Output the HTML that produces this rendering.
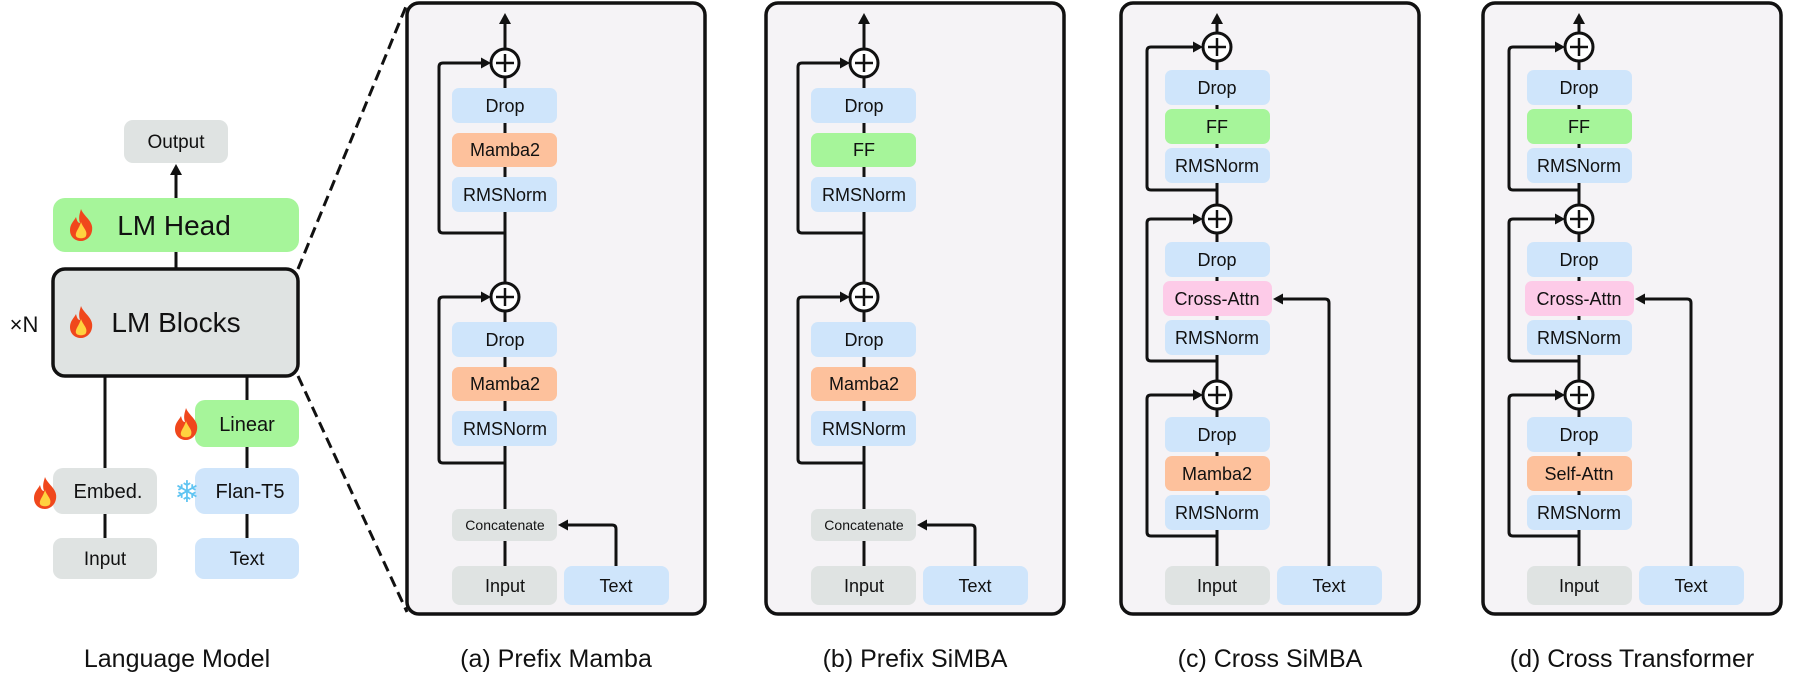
<!DOCTYPE html>
<html><head><meta charset="utf-8"><style>
html,body{margin:0;padding:0;background:#fff;}
svg{display:block;}
text{font-family:"Liberation Sans",sans-serif;fill:#111;text-anchor:middle;}
.b{font-size:18px;}
.cap{font-size:25px;}
</style></head><body>
<svg width="1794" height="683" viewBox="0 0 1794 683" xmlns="http://www.w3.org/2000/svg">
<defs>
<g id="fire">
<path d="M13 0 C16 8 26 12 24 22 C23 28 18 32 13 32 C7 32 2 28 2 21 C2 15 6 12 8 8 C9 12 10 14 12 14 C10 8 12 4 13 0Z" fill="#f0471c"/>
<path d="M13 13 C15 19 20 22 18 27 C17 30 9 30 8 27 C7 23 11 20 13 13Z" fill="#ffd23f"/>
</g>
<g id="ah"><polygon points="0,0 -10,-5.5 -10,5.5" fill="#111"/></g>
</defs>

<g stroke="#111" stroke-width="3" fill="none">
<line x1="176" y1="198" x2="176" y2="172"/>
<line x1="176" y1="252" x2="176" y2="269"/>
<line x1="105" y1="376" x2="105" y2="538"/>
<line x1="247" y1="376" x2="247" y2="538"/>
<line x1="298" y1="269" x2="407" y2="4" stroke-dasharray="11 6"/>
<line x1="298" y1="376" x2="407" y2="612" stroke-dasharray="11 6"/>
</g>
<polygon points="176,164 170,175 182,175" fill="#111"/>
<rect x="124" y="120" width="104" height="43" rx="9" fill="#dfe3e2"/>
<text x="176" y="148" font-size="19">Output</text>
<rect x="53" y="198" width="246" height="54" rx="12" fill="#a6f59a"/>
<use href="#fire" x="68" y="209"/>
<text x="174" y="235" font-size="28">LM Head</text>
<rect x="53" y="269" width="245" height="107" rx="12" fill="#dfe3e2" stroke="#111" stroke-width="3.5"/>
<use href="#fire" x="68" y="306"/>
<text x="176" y="332" font-size="28">LM Blocks</text>
<text x="24" y="332" font-size="22">×N</text>
<rect x="195" y="400" width="104" height="47" rx="10" fill="#a6f59a"/>
<text x="247" y="431" font-size="20">Linear</text>
<use href="#fire" x="173" y="408"/>
<rect x="53" y="468" width="104" height="46" rx="10" fill="#dfe3e2"/>
<text x="108" y="498" font-size="20">Embed.</text>
<use href="#fire" x="32" y="477"/>
<rect x="195" y="468" width="104" height="46" rx="10" fill="#cfe5fb"/>
<text x="250" y="498" font-size="20">Flan-T5</text>
<text x="187" y="502" font-size="30" style="fill:#5fc4f2">❄</text>
<rect x="53" y="538" width="104" height="41" rx="9" fill="#dfe3e2"/>
<text x="105" y="565" font-size="19">Input</text>
<rect x="195" y="538" width="104" height="41" rx="9" fill="#cfe5fb"/>
<text x="247" y="565" font-size="19">Text</text>
<text x="177" y="667" class="cap">Language Model</text>

<g fill="#f5f3f6" stroke="#111" stroke-width="3.5">
<rect x="407" y="3" width="298" height="611" rx="12"/>
<rect x="766" y="3" width="298" height="611" rx="12"/>
<rect x="1121" y="3" width="298" height="611" rx="12"/>
<rect x="1483" y="3" width="298" height="611" rx="12"/>
</g>

<g id="pa">
<g stroke="#111" stroke-width="3" fill="none">
<line x1="505" y1="22" x2="505" y2="566"/>
<path d="M505 233 H443 Q439 233 439 229 V67 Q439 63 443 63 H482"/>
<path d="M505 463 H443 Q439 463 439 459 V301 Q439 297 443 297 H482"/>
<path d="M616 566 V529 Q616 525 612 525 H568"/>
</g>
<polygon points="505,13 499,24 511,24" fill="#111"/>
<use href="#ah" x="491" y="63"/>
<use href="#ah" x="491" y="297"/>
<use href="#ah" x="558" y="525" transform="rotate(180 558 525)"/>
<g fill="#fff" stroke="#111" stroke-width="3">
<circle cx="505" cy="63" r="14"/><circle cx="505" cy="297" r="14"/>
</g>
<g stroke="#111" stroke-width="2.5">
<line x1="496" y1="63" x2="514" y2="63"/><line x1="505" y1="54" x2="505" y2="72"/>
<line x1="496" y1="297" x2="514" y2="297"/><line x1="505" y1="288" x2="505" y2="306"/>
</g>
<rect x="452" y="88" width="105" height="35" rx="7" fill="#cfe5fb"/><text class="b" x="505" y="112">Drop</text>
<rect x="452" y="177" width="105" height="35" rx="7" fill="#cfe5fb"/><text class="b" x="505" y="201">RMSNorm</text>
<rect x="452" y="322" width="105" height="35" rx="7" fill="#cfe5fb"/><text class="b" x="505" y="346">Drop</text>
<rect x="452" y="367" width="105" height="34" rx="7" fill="#fdc19c"/><text class="b" x="505" y="390">Mamba2</text>
<rect x="452" y="411" width="105" height="35" rx="7" fill="#cfe5fb"/><text class="b" x="505" y="435">RMSNorm</text>
<rect x="452" y="509" width="105" height="32" rx="7" fill="#dfe3e2"/><text x="505" y="530" font-size="14">Concatenate</text>
<rect x="452" y="566" width="105" height="39" rx="8" fill="#dfe3e2"/><text class="b" x="505" y="592">Input</text>
<rect x="564" y="566" width="105" height="39" rx="8" fill="#cfe5fb"/><text class="b" x="616" y="592">Text</text>
</g>
<rect x="452" y="133" width="105" height="34" rx="7" fill="#fdc19c"/><text class="b" x="505" y="156">Mamba2</text>

<use href="#pa" x="359" y="0"/>
<rect x="811" y="133" width="105" height="34" rx="7" fill="#a6f59a"/><text class="b" x="864" y="156">FF</text>

<text x="556" y="667" class="cap">(a) Prefix Mamba</text>
<text x="915" y="667" class="cap">(b) Prefix SiMBA</text>

<g id="pd">
<g stroke="#111" stroke-width="3" fill="none">
<line x1="1579" y1="22" x2="1579" y2="566"/>
<path d="M1579 190 H1513 Q1509 190 1509 186 V51 Q1509 47 1513 47 H1556"/>
<path d="M1579 361 H1513 Q1509 361 1509 357 V223 Q1509 219 1513 219 H1556"/>
<path d="M1579 536 H1513 Q1509 536 1509 532 V399 Q1509 395 1513 395 H1556"/>
<path d="M1691 566 V303 Q1691 299 1687 299 H1645"/>
</g>
<polygon points="1579,13 1573,24 1585,24" fill="#111"/>
<use href="#ah" x="1565" y="47"/>
<use href="#ah" x="1565" y="219"/>
<use href="#ah" x="1565" y="395"/>
<use href="#ah" x="1635" y="299" transform="rotate(180 1635 299)"/>
<g fill="#fff" stroke="#111" stroke-width="3">
<circle cx="1579" cy="47" r="14"/><circle cx="1579" cy="219" r="14"/><circle cx="1579" cy="395" r="14"/>
</g>
<g stroke="#111" stroke-width="2.5">
<line x1="1570" y1="47" x2="1588" y2="47"/><line x1="1579" y1="38" x2="1579" y2="56"/>
<line x1="1570" y1="219" x2="1588" y2="219"/><line x1="1579" y1="210" x2="1579" y2="228"/>
<line x1="1570" y1="395" x2="1588" y2="395"/><line x1="1579" y1="386" x2="1579" y2="404"/>
</g>
<rect x="1527" y="70" width="105" height="35" rx="7" fill="#cfe5fb"/><text class="b" x="1579" y="94">Drop</text>
<rect x="1527" y="109" width="105" height="35" rx="7" fill="#a6f59a"/><text class="b" x="1579" y="133">FF</text>
<rect x="1527" y="148" width="105" height="35" rx="7" fill="#cfe5fb"/><text class="b" x="1579" y="172">RMSNorm</text>
<rect x="1527" y="242" width="105" height="35" rx="7" fill="#cfe5fb"/><text class="b" x="1579" y="266">Drop</text>
<rect x="1525" y="281" width="109" height="35" rx="7" fill="#fdcbe8"/><text class="b" x="1579" y="305">Cross-Attn</text>
<rect x="1527" y="320" width="105" height="35" rx="7" fill="#cfe5fb"/><text class="b" x="1579" y="344">RMSNorm</text>
<rect x="1527" y="417" width="105" height="35" rx="7" fill="#cfe5fb"/><text class="b" x="1579" y="441">Drop</text>
<rect x="1527" y="495" width="105" height="35" rx="7" fill="#cfe5fb"/><text class="b" x="1579" y="519">RMSNorm</text>
<rect x="1527" y="566" width="105" height="39" rx="8" fill="#dfe3e2"/><text class="b" x="1579" y="592">Input</text>
<rect x="1639" y="566" width="105" height="39" rx="8" fill="#cfe5fb"/><text class="b" x="1691" y="592">Text</text>
</g>
<rect x="1527" y="456" width="105" height="35" rx="7" fill="#fdc19c"/><text class="b" x="1579" y="480">Self-Attn</text>

<use href="#pd" x="-362" y="0"/>
<rect x="1165" y="456" width="105" height="35" rx="7" fill="#fdc19c"/><text class="b" x="1217" y="480">Mamba2</text>

<text x="1270" y="667" class="cap">(c) Cross SiMBA</text>
<text x="1632" y="667" class="cap">(d) Cross Transformer</text>
</svg>
</body></html>
